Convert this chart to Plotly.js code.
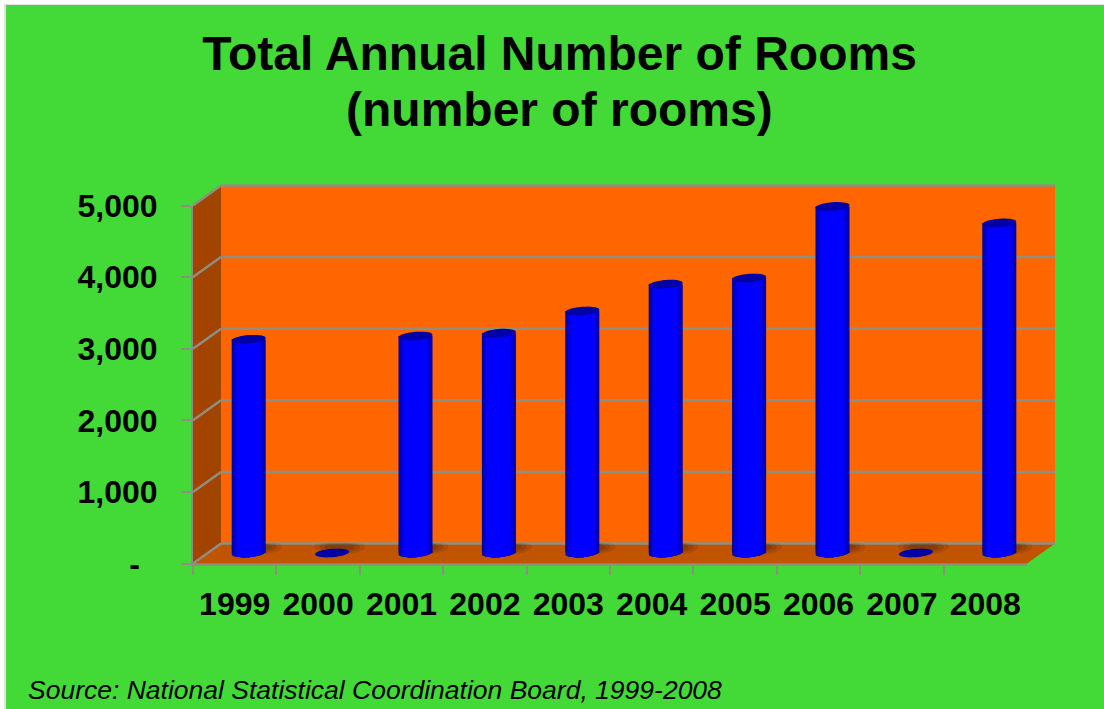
<!DOCTYPE html>
<html>
<head>
<meta charset="utf-8">
<script src="https://cdn.plot.ly/plotly-3.0.1.min.js"></script>
<style>html,body{margin:0;padding:0;background:#fff}#chart{width:1104px;height:709px}</style>
</head>
<body>
<div id="chart"></div>
<script>
var years = [1999, 2000, 2001, 2002, 2003, 2004, 2005, 2006, 2007, 2008];
var yearLabels = ['1999','2000','2001','2002','2003','2004','2005','2006','2007','2008'];
var rooms = [2985, 0, 3030, 3070, 3380, 3755, 3840, 4840, 0, 4610];
var yTickVals = [0, 1000, 2000, 3000, 4000, 5000];
var yTickText = ['-\u00a0\u00a0', '1,000', '2,000', '3,000', '4,000', '5,000'];
var titleLine1 = 'Total Annual Number of Rooms';
var titleLine2 = '(number of rooms)';
var sourceText = 'Source: National Statistical Coordination Board, 1999-2008';

var W = 1104, H = 709;
var FONT = '"Liberation Sans", Arial, sans-serif';
var GRID = '#8f8f80';
// plot geometry in pixels
var fx0 = 193, fx1 = 1027, fy0 = 563.5, fy5 = 205.5; // front plane
var dx = 28, dy = -20;                                 // depth of the box
var mdx = 14, mdy = -10.5;                             // plane of the bars
var perK = (fy0 - fy5) / 5;
function px(x){ return x / W; }
function py(y){ return 1 - y / H; }
function poly(pts){
  return 'M' + pts.map(function(p){ return px(p[0]) + ',' + py(p[1]); }).join('L') + 'Z';
}
function paperPoly(pts, fill){
  return {type:'path', xref:'paper', yref:'paper', layer:'below', path:poly(pts),
          fillcolor:fill, line:{width:0}};
}
function seg(a, b){
  return {type:'line', xref:'paper', yref:'paper', layer:'below',
          x0:px(a[0]), y0:py(a[1]), x1:px(b[0]), y1:py(b[1]), line:{color:GRID, width:2.5}};
}

var shapes = [];
// background with its faint left edge
shapes.push(paperPoly([[4,4],[W,4],[W,H],[4,H]], '#e2e2e2'));
shapes.push(paperPoly([[6,5],[W,5],[W,H],[6,H]], '#43d936'));
// walls and floor
shapes.push(paperPoly([[fx0+dx,fy5+dy],[fx1+dx,fy5+dy],[fx1+dx,fy0+dy],[fx0+dx,fy0+dy]], '#ff6600'));
shapes.push(paperPoly([[fx0,fy5],[fx0+dx,fy5+dy],[fx0+dx,fy0+dy],[fx0,fy0]], '#a34300'));
shapes.push(paperPoly([[fx0,fy0],[fx0+dx,fy0+dy],[fx1+dx,fy0+dy],[fx1,fy0]], '#c05400'));
// grid
yTickVals.forEach(function(v){
  var yf = fy0 - v / 1000 * perK;
  shapes.push(seg([fx0, yf], [fx0+dx, yf+dy]));
  shapes.push(seg([fx0+dx, yf+dy], [fx1+dx, yf+dy]));
});

// cylinder shading layers: relative width and colour
var catW = (fx1 - fx0) / 10;
var fullW = 34 / catW;
var layerW = [1, 0.93, 0.85, 0.76, 0.66];
var layerC = ['#00009a', '#0000b8', '#0000d4', '#0000ec', '#0000ff'];

function ellipsePath(cx, cy, rx, ry, tilt, maxY){
  var p = [];
  for (var i = 0; i < 36; i++){
    var t = i / 36 * 2 * Math.PI;
    var y = cy + ry * Math.sin(t) + tilt * Math.cos(t);
    if (maxY !== undefined && y > maxY) y = maxY;
    p.push((cx + rx * Math.cos(t)) + ',' + y);
  }
  return 'M' + p.join('L') + 'Z';
}
var ryData = 4.2 / perK * 1000, tiltData = 1.3 / perK * 1000;
var backLimit = (-dy + mdy) / perK * 1000;

// soft floor shadows, stopped at the back of the floor
years.forEach(function(yr){
  [[1.5, 0.12], [1.2, 0.16], [0.9, 0.2]].forEach(function(s){
    shapes.push({type:'path', xref:'x2', yref:'y2', layer:'below',
      path: ellipsePath(yr + 0.09, 85, fullW/2*s[0], 70*s[0], 0, backLimit),
      fillcolor:'#3a1c00', opacity:s[1], line:{width:0}});
  });
});
// rounded base of each cylinder
layerW.forEach(function(w, k){
  years.forEach(function(yr, i){
    if (rooms[i] > 0) shapes.push({type:'path', xref:'x2', yref:'y2', layer:'below',
      path: ellipsePath(yr, 0, fullW/2*w, ryData, tiltData), fillcolor:layerC[k], line:{width:0}});
  });
});
// top cap of each cylinder
years.forEach(function(yr, i){
  shapes.push({type:'path', xref:'x2', yref:'y2', layer:'above',
    path: ellipsePath(yr, rooms[i], fullW/2, ryData, tiltData), fillcolor:'#0000a4', line:{width:0}});
});

var traces = [{
  type:'scatter', mode:'markers', x:yearLabels, y:rooms, xaxis:'x', yaxis:'y',
  marker:{opacity:0, size:1}, hoverinfo:'skip', showlegend:false
}];
layerW.forEach(function(w, k){
  traces.push({type:'bar', x:years, y:rooms, xaxis:'x2', yaxis:'y2', width:fullW*w,
    marker:{color:layerC[k], line:{width:0}}, showlegend:false, hoverinfo:'x+y'});
});

var yLow = -300, yHigh = 5200;
var layout = {
  width:W, height:H, autosize:false,
  margin:{l:0,r:0,t:0,b:0},
  paper_bgcolor:'#ffffff', plot_bgcolor:'rgba(0,0,0,0)',
  showlegend:false, barmode:'overlay',
  font:{family:FONT, color:'#000'},
  title:{text:titleLine1, font:{family:FONT, size:48, weight:700, color:'#000'},
         x:559.5/W, xanchor:'center', y:py(53), yanchor:'middle', xref:'paper', yref:'container'},
  xaxis:{domain:[px(fx0), px(fx1)], type:'category', categoryarray:yearLabels, categoryorder:'array',
         range:[-0.5,9.5], tickson:'boundaries', ticks:'outside', ticklen:9, tickwidth:2, tickcolor:GRID,
         showgrid:false, zeroline:false, showline:true, linecolor:GRID, linewidth:2, anchor:'y',
         tickfont:{family:FONT, size:32, weight:700, color:'#000'}, ticklabelstandoff:11, tickangle:0, fixedrange:true},
  yaxis:{domain:[py(fy0), py(fy5)], range:[0,5000], tickvals:yTickVals, ticktext:yTickText,
         ticks:'outside', ticklen:10, tickwidth:2, tickcolor:GRID,
         showgrid:false, zeroline:false, showline:true, linecolor:GRID, linewidth:2, anchor:'x',
         tickfont:{family:FONT, size:32, weight:700, color:'#000'}, ticklabelstandoff:17, fixedrange:true},
  xaxis2:{domain:[px(fx0+mdx), px(fx1+mdx)], range:[years[0]-0.5, years[years.length-1]+0.5], visible:false, anchor:'y2', fixedrange:true},
  yaxis2:{domain:[py(fy0+mdy - yLow/1000*perK), py(fy0+mdy - yHigh/1000*perK)], range:[yLow,yHigh], visible:false, anchor:'x2', fixedrange:true},
  shapes:shapes,
  annotations:[
    {text:titleLine2, xref:'paper', yref:'paper', x:559.5/W, y:py(110), xanchor:'center', yanchor:'middle',
     showarrow:false, font:{family:FONT, size:48, weight:700, color:'#000'}},
    {text:sourceText, xref:'paper', yref:'paper', x:26/W, y:py(690), xanchor:'left', yanchor:'middle',
     showarrow:false, font:{family:FONT, size:26.5, color:'#000', style:'italic'}}
  ]
};
Plotly.newPlot('chart', traces, layout, {displayModeBar:false, staticPlot:true});
</script>
</body>
</html>
